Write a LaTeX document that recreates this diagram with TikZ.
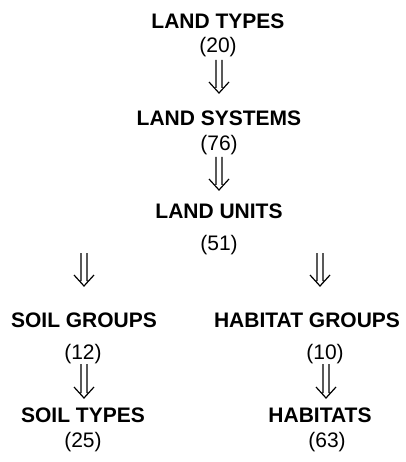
\documentclass[tikz,border=0pt]{standalone}
\usepackage{fontspec}
\setmainfont{Liberation Sans}
\usetikzlibrary{calc}
\tikzset{
  title/.style={anchor=base, inner sep=0pt, font=\fontsize{21}{25}\selectfont\bfseries},
  count/.style={anchor=base, inner sep=0pt, font=\fontsize{21}{25}\selectfont},
  dblarrow/.style={line width=1.2pt, line join=miter, to path={
    let \p1=(\tikztostart), \p2=(\tikztotarget) in
    (\x1-3pt,\y1) -- (\x1-3pt,\y2+5pt)
    (\x1+3pt,\y1) -- (\x1+3pt,\y2+5pt)
    (\x1-10pt,\y2+11pt) -- (\x1,\y2) -- (\x1+10pt,\y2+11pt)}}
}
\begin{document}
\begin{tikzpicture}[x=1pt, y=-1pt]
\useasboundingbox (0,0) rectangle (405,462);
\node[title] (lt) at (218,29) {LAND TYPES};
\node[count] (n20) at (218,53) {(20)};
\node[title] (ls) at (219,126) {LAND SYSTEMS};
\node[count] (n76) at (219,151) {(76)};
\node[title] (lu) at (219,218) {LAND UNITS};
\node[count] (n51) at (219,250) {(51)};
\node[title] (sg) at (84,327) {SOIL GROUPS};
\node[count] (n12) at (83,359) {(12)};
\node[title] (hg) at (307,327) {HABITAT GROUPS};
\node[count] (n10) at (325,359) {(10)};
\node[title] (st) at (83,422) {SOIL TYPES};
\node[count] (n25) at (83,447) {(25)};
\node[title] (hb) at (320,422) {HABITATS};
\node[count] (n63) at (327,447) {(63)};
\coordinate (a1t) at (219,60);  \coordinate (a1b) at (219,93);
\coordinate (a2t) at (219,157); \coordinate (a2b) at (219,190);
\coordinate (a3t) at (84,253);  \coordinate (a3b) at (84,286);
\coordinate (a4t) at (320,253); \coordinate (a4b) at (320,286);
\coordinate (a5t) at (84,364);  \coordinate (a5b) at (84,398);
\coordinate (a6t) at (326,364); \coordinate (a6b) at (326,398);
\draw[dblarrow] (a1t) to (a1b);
\draw[dblarrow] (a2t) to (a2b);
\draw[dblarrow] (a3t) to (a3b);
\draw[dblarrow] (a4t) to (a4b);
\draw[dblarrow] (a5t) to (a5b);
\draw[dblarrow] (a6t) to (a6b);
\end{tikzpicture}
\end{document}
